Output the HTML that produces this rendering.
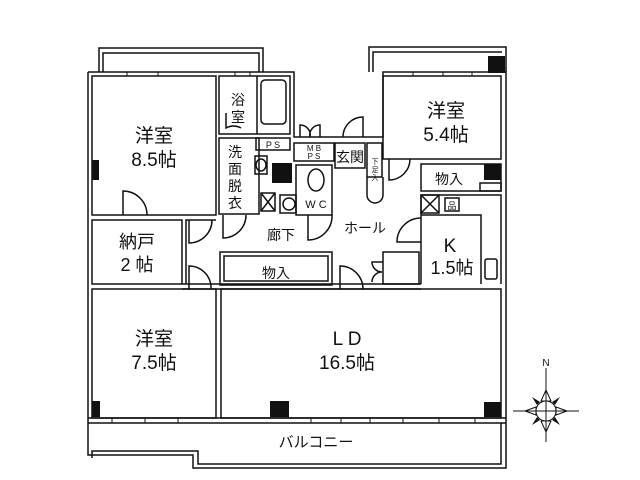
<!DOCTYPE html>
<html><head><meta charset="utf-8"><style>
html,body{margin:0;padding:0;background:#fff;}
svg{display:block;}
text{font-family:"Liberation Sans","Noto Sans CJK JP",sans-serif;fill:#111;}
</style></head><body>
<svg width="640" height="480" viewBox="0 0 640 480" xmlns="http://www.w3.org/2000/svg">
<g fill="none" stroke="#111" stroke-width="1.5">
<polyline points="99,72 99,48 263,48 263,72"/>
<polyline points="103,72 103,53 259,53 259,72"/>
<polyline points="369,72 369,47 506,47 506,72"/>
<polyline points="373,72 373,52 502,52"/>
<polyline points="88,72 294,72 294,137 383,137 383,72 506,72 506,468 193,468 193,455 88,455 88,72"/>
<polyline points="92,458 92,451 198,451 198,464 501,464 501,423"/>
<line x1="88" y1="418" x2="506" y2="418"/>
<line x1="88" y1="423" x2="506" y2="423"/>
<rect x="92" y="76" width="124" height="139"/>
<rect x="92" y="220" width="90" height="64"/>
<rect x="92" y="289" width="124" height="129"/>
<rect x="221" y="289" width="280" height="129"/>
<rect x="219" y="76" width="71" height="58"/>
<rect x="261" y="80" width="25" height="44" rx="4"/>
<line x1="257" y1="76" x2="257" y2="134"/>
<rect x="219" y="138" width="40" height="76"/>
<rect x="256" y="138" width="34" height="12"/>
<rect x="255" y="156" width="12" height="18"/>
<ellipse cx="261" cy="165" rx="5" ry="6"/>
<rect x="261" y="193" width="14" height="18"/>
<line x1="261" y1="193" x2="275" y2="211"/><line x1="275" y1="193" x2="261" y2="211"/>
<rect x="280" y="195" width="16" height="18"/>
<circle cx="289" cy="204" r="6"/>
<rect x="296" y="165" width="36" height="50"/>
<ellipse cx="316" cy="180" rx="8" ry="11"/>
<rect x="294" y="143" width="40" height="18"/>
<rect x="335" y="143" width="30" height="25"/>
<rect x="367" y="143" width="15" height="34"/>
<path d="M367,177 L367,195 A8,8 0 0 0 383,195 L383,177"/>
<rect x="383" y="76" width="118" height="83"/>
<rect x="421" y="164" width="80" height="27"/>
<rect x="480" y="183" width="21" height="8"/>
<polyline points="421,284 421,195 501,195 501,284"/>
<polyline points="421,215 481,215 481,284"/>
<rect x="421" y="195" width="18" height="18"/>
<line x1="421" y1="195" x2="439" y2="213"/><line x1="439" y1="195" x2="421" y2="213"/>
<rect x="445" y="198" width="14" height="13"/>
<rect x="485" y="259" width="12" height="20" rx="2"/>
<rect x="220" y="252" width="112" height="33"/>
<rect x="224" y="256" width="104" height="25"/>
<rect x="383" y="252" width="36" height="32"/>
<polyline points="186,284 186,220 216,220"/>
<line x1="182" y1="289" x2="421" y2="289"/>
<line x1="182" y1="284" x2="421" y2="284"/>
<path d="M123,215 L123,191 A24,24 0 0 1 147,215"/>
<path d="M189,220 L189,243 A23,23 0 0 0 212,220"/>
<path d="M223,215 L223,238 A23,23 0 0 0 246,215"/>
<path d="M189,289 L189,266 A22,22 0 0 1 211,289"/>
<path d="M308,215 L308,240 A24,24 0 0 0 332,215"/>
<path d="M340,289 L340,266 A23,23 0 0 1 363,289"/>
<path d="M363,137 L363,117 A20,20 0 0 0 343,137"/>
<path d="M389,159 L389,180 A21,21 0 0 0 410,159"/>
<path d="M421,242 L397,242 A24,24 0 0 1 421,218"/>
<path d="M226,113 L226,128 A15,15 0 0 1 241,128"/>
<path d="M300,137 L300,125 A10,10 0 0 1 310,137 M310,137 A10,10 0 0 1 320,125 L320,137"/>
<path d="M383,262 L372,262 A10,10 0 0 0 382,272 A10,10 0 0 0 372,282"/>
</g>
<g stroke="#111" stroke-width="1">
<line x1="127" y1="72" x2="127" y2="76"/><line x1="158" y1="72" x2="158" y2="76"/><line x1="235" y1="72" x2="235" y2="76"/><line x1="250" y1="72" x2="250" y2="76"/>
<line x1="413" y1="72" x2="413" y2="76"/><line x1="443" y1="72" x2="443" y2="76"/><line x1="472" y1="72" x2="472" y2="76"/>
<line x1="112" y1="418" x2="112" y2="423"/><line x1="145" y1="418" x2="145" y2="423"/><line x1="178" y1="418" x2="178" y2="423"/>
<line x1="311" y1="418" x2="311" y2="423"/><line x1="341" y1="418" x2="341" y2="423"/><line x1="370" y1="418" x2="370" y2="423"/><line x1="403" y1="418" x2="403" y2="423"/><line x1="439" y1="418" x2="439" y2="423"/><line x1="475" y1="418" x2="475" y2="423"/>
</g>
<g fill="#111">
<rect x="488" y="56" width="17" height="17"/>
<rect x="92" y="160" width="7" height="20"/>
<rect x="272" y="163" width="20" height="20"/>
<rect x="484" y="164" width="17" height="16"/>
<rect x="92" y="401" width="8" height="16"/>
<rect x="270" y="401" width="19" height="16"/>
<rect x="484" y="402" width="17" height="15"/>
</g>
<text x="154" y="142" font-size="19" text-anchor="middle">洋室</text>
<text x="154" y="166" font-size="19" text-anchor="middle">8.5帖</text>
<text x="137" y="248" font-size="18" text-anchor="middle">納戸</text>
<text x="137" y="271" font-size="18" text-anchor="middle">2 帖</text>
<text x="154" y="345" font-size="19" text-anchor="middle">洋室</text>
<text x="154" y="369" font-size="19" text-anchor="middle">7.5帖</text>
<text x="347" y="345" font-size="19" text-anchor="middle">L D</text>
<text x="347" y="369" font-size="19" text-anchor="middle">16.5帖</text>
<text x="446" y="117" font-size="19" text-anchor="middle">洋室</text>
<text x="446" y="141" font-size="19" text-anchor="middle">5.4帖</text>
<text x="450" y="252" font-size="19" text-anchor="middle">K</text>
<text x="452" y="274" font-size="18" text-anchor="middle">1.5帖</text>
<text x="449" y="184" font-size="14" text-anchor="middle">物入</text>
<text x="276" y="278" font-size="14" text-anchor="middle">物入</text>
<text x="281" y="240" font-size="14" text-anchor="middle">廊下</text>
<text x="365" y="233" font-size="14" text-anchor="middle">ホール</text>
<text x="316" y="447" font-size="15" text-anchor="middle">バルコニー</text>
<text x="238" y="105" font-size="14" text-anchor="middle">浴</text>
<text x="238" y="122" font-size="14" text-anchor="middle">室</text>
<text x="235" y="157" font-size="14" text-anchor="middle">洗</text>
<text x="235" y="174" font-size="14" text-anchor="middle">面</text>
<text x="235" y="191" font-size="14" text-anchor="middle">脱</text>
<text x="235" y="208" font-size="14" text-anchor="middle">衣</text>
<text x="350" y="162" font-size="14" text-anchor="middle">玄関</text>
<text x="273" y="148" font-size="9" text-anchor="middle">P S</text>
<text x="314" y="151" font-size="8" text-anchor="middle">M B</text>
<text x="314" y="159" font-size="8" text-anchor="middle">P S</text>
<text x="316" y="208" font-size="11" text-anchor="middle">W C</text>
<text x="375" y="164" font-size="7" text-anchor="middle">下</text>
<text x="375" y="172" font-size="7" text-anchor="middle">足</text>
<text x="375" y="180" font-size="7" text-anchor="middle">入</text>
<text x="452" y="209" font-size="9" text-anchor="middle">品</text>
<g stroke="#111" fill="none" stroke-width="1">
<circle cx="546" cy="411" r="10"/>
<line x1="546" y1="368" x2="546" y2="442"/>
<line x1="513" y1="411" x2="579" y2="411"/>
<polygon points="546,390 541,401 551,401"/>
<polygon points="546,432 541,421 551,421"/>
<polygon points="525,411 536,407 536,415"/>
<polygon points="567,411 556,407 556,415"/>
</g>
<g fill="#111">
<polygon points="532,397 540,402 537,405"/>
<polygon points="560,397 552,402 555,405"/>
<polygon points="532,425 540,420 537,417"/>
<polygon points="560,425 552,420 555,417"/>
</g>
<text x="546" y="366" font-size="10" text-anchor="middle" font-family="Liberation Serif,serif">N</text>
</svg>
</body></html>
